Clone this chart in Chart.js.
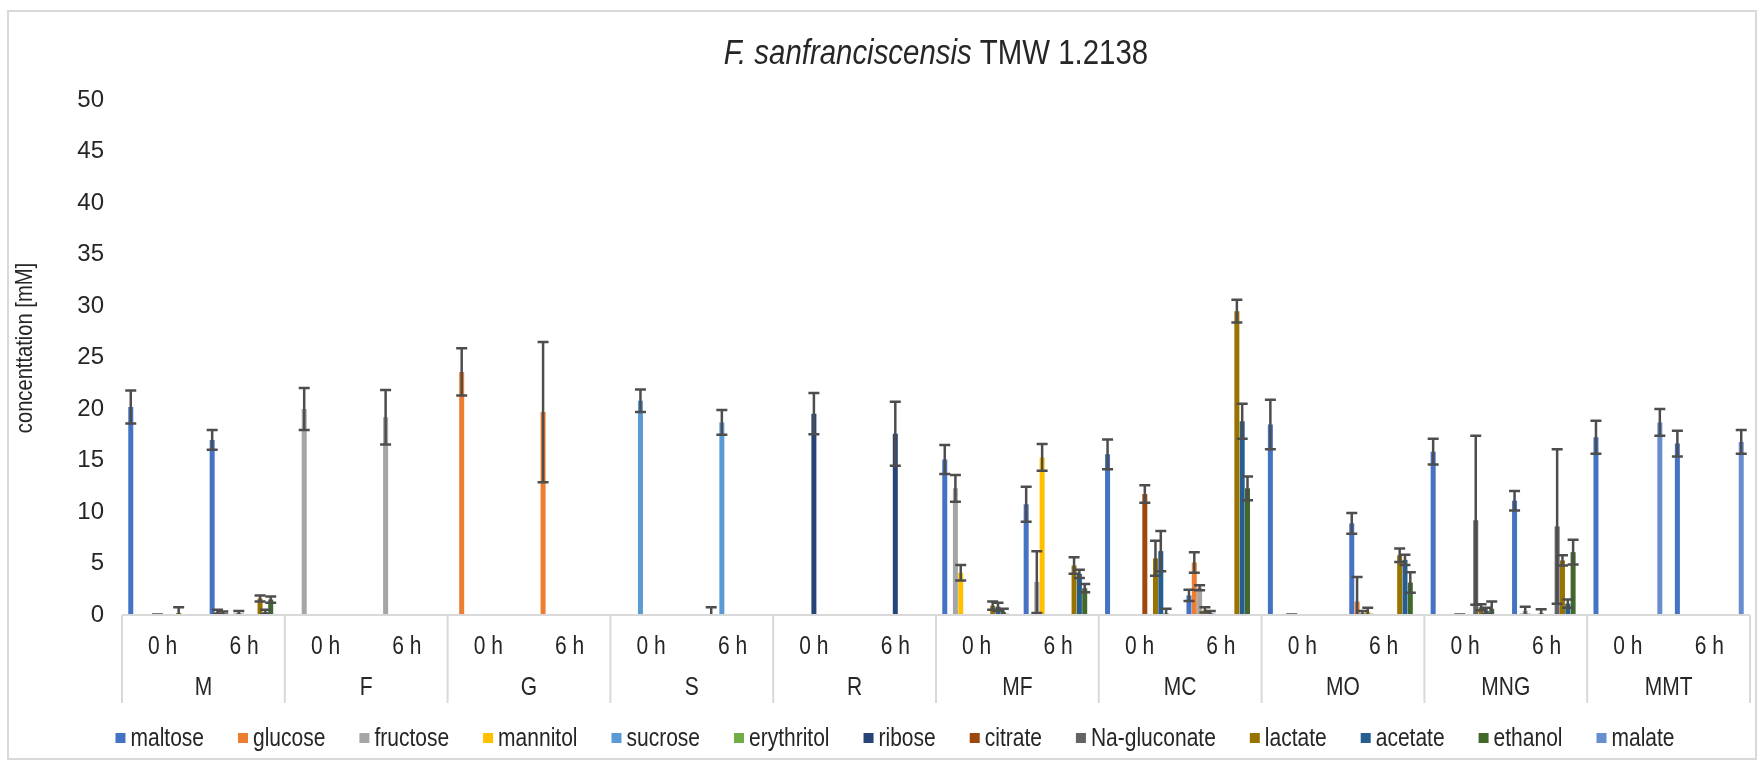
<!DOCTYPE html>
<html>
<head>
<meta charset="utf-8">
<title>F. sanfranciscensis TMW 1.2138</title>
<script src="https://cdn.jsdelivr.net/npm/chart.js"></script>
<style>
  html, body { margin: 0; padding: 0; background: #fff; }
</style>
</head>
<body>
<canvas id="concChart" width="1763" height="765"></canvas>

<script>
// substrates / time points
const groups = ['M', 'F', 'G', 'S', 'R', 'MF', 'MC', 'MO', 'MNG', 'MMT'];
const times = ['0 h', '6 h'];
const yMax = 50;
const yStep = 5;

const _ = null;
// mean concentrations [mM] and standard deviations, one entry per group/time
const maltose      = [20.2, 17.0, _, _, _, _, _, _, _, _, 15.1, 10.75, 15.6, 1.9, 18.5, 8.9, 15.85, 11.1, 17.25, 16.65];
const maltoseSd    = [1.6, 0.95, _, _, _, _, _, _, _, _, 1.4, 1.7, 1.45, 0.55, 2.4, 1.0, 1.25, 0.95, 1.6, 1.25];
const glucose      = [_, 0.3, _, _, 23.6, 19.7, _, _, _, _, _, _, _, 5.1, _, 1.3, _, _, _, _];
const glucoseSd    = [_, 0.2, _, _, 2.3, 6.8, _, _, _, _, _, _, _, 1.0, _, 2.4, _, _, _, _];
const fructose     = [_, 0.2, 20.0, 19.2, _, _, _, 0.1, _, _, 12.3, 3.2, _, 2.65, _, 0.2, _, 0.4, _, _];
const fructoseSd   = [_, 0.15, 2.05, 2.65, _, _, _, 0.65, _, _, 1.3, 3.0, _, 0.25, _, 0.2, _, 0.4, _, _];
const mannitol     = [_, _, _, _, _, _, _, _, _, _, 4.1, 15.3, _, 0.5, _, 0.35, _, _, _, _];
const mannitolSd   = [_, _, _, _, _, _, _, _, _, _, 0.75, 1.3, _, 0.25, _, 0.35, _, _, _, _];
const sucrose      = [_, _, _, _, _, _, 20.8, 18.7, _, _, _, _, _, 0.2, 0, _, _, _, _, _];
const sucroseSd    = [_, _, _, _, _, _, 1.1, 1.2, _, _, _, _, _, 0.2, 0.05, _, _, _, _, _];
const erythritol   = [0, 0.2, _, _, _, _, _, _, _, _, _, _, _, _, _, _, 0, 0.2, _, _];
const erythritolSd = [0.05, 0.2, _, _, _, _, _, _, _, _, _, _, _, _, _, _, 0.05, 0.35, _, _];
const ribose       = [_, _, _, _, _, _, _, _, 19.55, 17.6, _, _, _, _, _, _, _, _, _, _];
const riboseSd     = [_, _, _, _, _, _, _, _, 2.0, 3.1, _, _, _, _, _, _, _, _, _, _];
const citrate      = [_, _, _, _, _, _, _, _, _, _, _, _, 11.75, _, _, _, _, _, _, _];
const citrateSd    = [_, _, _, _, _, _, _, _, _, _, _, _, 0.85, _, _, _, _, _, _, _];
const naGluconate  = [_, _, _, _, _, _, _, _, _, _, _, _, _, _, _, _, 9.2, 8.6, _, _];
const naGluconateSd= [_, _, _, _, _, _, _, _, _, _, _, _, _, _, _, _, 8.2, 7.5, _, _];
const lactate      = [0.2, 1.6, _, _, _, _, _, _, _, _, 0.9, 4.8, 5.5, 29.5, _, 5.8, 0.75, 5.3, _, _];
const lactateSd    = [0.55, 0.3, _, _, _, _, _, _, _, _, 0.4, 0.8, 1.7, 1.1, _, 0.65, 0.3, 0.5, _, _];
const acetate      = [_, 0.3, _, _, _, _, _, _, _, _, 0.8, 4.0, 6.2, 18.8, _, 5.35, 0.4, 1.1, _, _];
const acetateSd    = [_, 0.2, _, _, _, _, _, _, _, _, 0.4, 0.4, 1.95, 1.7, _, 0.5, 0.3, 0.4, _, _];
const ethanol      = [_, 1.5, _, _, _, _, _, _, _, _, 0.3, 2.6, 0.15, 12.3, _, 3.15, 0.6, 6.1, _, _];
const ethanolSd    = [_, 0.3, _, _, _, _, _, _, _, _, 0.3, 0.4, 0.45, 1.15, _, 1.0, 0.7, 1.2, _, _];
const malate       = [_, _, _, _, _, _, _, _, _, _, _, _, _, _, _, _, _, _, 18.7, 16.8];
const malateSd     = [_, _, _, _, _, _, _, _, _, _, _, _, _, _, _, _, _, _, 1.3, 1.15];

const seriesNames = ['maltose', 'glucose', 'fructose', 'mannitol', 'sucrose', 'erythritol', 'ribose',
                     'citrate', 'Na-gluconate', 'lactate', 'acetate', 'ethanol', 'malate'];
const seriesValues = [maltose, glucose, fructose, mannitol, sucrose, erythritol, ribose,
                      citrate, naGluconate, lactate, acetate, ethanol, malate];
const seriesErrors = [maltoseSd, glucoseSd, fructoseSd, mannitolSd, sucroseSd, erythritolSd, riboseSd,
                      citrateSd, naGluconateSd, lactateSd, acetateSd, ethanolSd, malateSd];
const seriesColors = ['#4472C4', '#ED7D31', '#A5A5A5', '#FFC000', '#5B9BD5', '#70AD47', '#264478',
                      '#9E480E', '#636363', '#997300', '#255E91', '#43682B', '#698ED0'];

const FONT = '"Liberation Sans", Arial, sans-serif';
const NARROW = 0.84;   // horizontal squeeze for a condensed look
const TEXT = '#262626';
const LINE = '#d9d9d9';

// draw a condensed text run; returns its drawn width
function narrowText(ctx, text, x, y, align) {
  const w = ctx.measureText(text).width * NARROW;
  let x0 = x;
  if (align === 'center') x0 = x - w / 2;
  else if (align === 'right') x0 = x - w;
  ctx.save();
  ctx.translate(x0, y);
  ctx.scale(NARROW, 1);
  ctx.textAlign = 'left';
  ctx.fillText(text, 0, 0);
  ctx.restore();
  return w;
}

// white background + outer frame
const frame = {
  id: 'frame',
  beforeDraw(chart) {
    const ctx = chart.ctx;
    ctx.save();
    ctx.fillStyle = '#fff';
    ctx.fillRect(0, 0, chart.width, chart.height);
    ctx.strokeStyle = LINE;
    ctx.lineWidth = 2;
    ctx.strokeRect(8, 11, 1748, 748);
    ctx.restore();
  }
};

// +/- SD whiskers on every bar
const errorBars = {
  id: 'errorBars',
  afterDatasetsDraw(chart) {
    const { ctx, chartArea, scales: { y } } = chart;
    ctx.save();
    ctx.beginPath();
    ctx.rect(chartArea.left, 0, chartArea.width, chartArea.bottom + 1);
    ctx.clip();
    ctx.strokeStyle = '#4d4d4d';
    ctx.lineWidth = 2.5;
    chart.data.datasets.forEach((ds, di) => {
      const meta = chart.getDatasetMeta(di);
      ds.data.forEach((v, i) => {
        if (v === null) return;
        const sd = ds.errors[i] || 0;
        const x = meta.data[i].x;
        const top = y.getPixelForValue(v + sd);
        const bot = y.getPixelForValue(v - sd);
        ctx.beginPath();
        ctx.moveTo(x, top); ctx.lineTo(x, bot);
        ctx.moveTo(x - 5.5, top); ctx.lineTo(x + 5.5, top);
        ctx.moveTo(x - 5.5, bot); ctx.lineTo(x + 5.5, bot);
        ctx.stroke();
      });
    });
    ctx.restore();
  }
};

// two-level category axis, titles and legend
const decorations = {
  id: 'decorations',
  afterDraw(chart) {
    const { ctx, chartArea, scales: { x } } = chart;
    const base = chartArea.bottom;
    const half = (x.getPixelForValue(1) - x.getPixelForValue(0)) / 2;
    ctx.save();

    // axis box
    ctx.strokeStyle = LINE;
    ctx.lineWidth = 2;
    ctx.beginPath();
    ctx.moveTo(chartArea.left, base); ctx.lineTo(chartArea.right, base);
    groups.forEach((g, gi) => {
      const left = x.getPixelForValue(gi * 2) - half;
      ctx.moveTo(left, base); ctx.lineTo(left, base + 88);
    });
    ctx.moveTo(chartArea.right, base); ctx.lineTo(chartArea.right, base + 88);
    ctx.stroke();

    ctx.fillStyle = TEXT;
    ctx.textBaseline = 'middle';
    ctx.font = `25px ${FONT}`;
    groups.forEach((g, gi) => {
      times.forEach((t, ti) => {
        narrowText(ctx, t, x.getPixelForValue(gi * 2 + ti), base + 32, 'center');
      });
      const mid = (x.getPixelForValue(gi * 2) + x.getPixelForValue(gi * 2 + 1)) / 2;
      narrowText(ctx, g, mid, base + 73, 'center');
    });

    // chart title over the plot, species name in italics
    const part1 = 'F. sanfranciscensis';
    const part2 = ' TMW 1.2138';
    ctx.font = `italic 35px ${FONT}`;
    const w1 = ctx.measureText(part1).width * NARROW;
    ctx.font = `35px ${FONT}`;
    const w2 = ctx.measureText(part2).width * NARROW;
    const tx = (chartArea.left + chartArea.right) / 2 - (w1 + w2) / 2;
    ctx.font = `italic 35px ${FONT}`;
    narrowText(ctx, part1, tx, 54, 'left');
    ctx.font = `35px ${FONT}`;
    narrowText(ctx, part2, tx + w1, 54, 'left');

    // y axis title
    ctx.save();
    ctx.translate(25, 348);
    ctx.rotate(-Math.PI / 2);
    ctx.font = `24px ${FONT}`;
    narrowText(ctx, 'concenttation [mM]', 0, 0, 'center');
    ctx.restore();

    // legend
    ctx.font = `25px ${FONT}`;
    const box = 10, gap = 5, spacing = 34;
    const widths = seriesNames.map(n => ctx.measureText(n).width * NARROW);
    const total = widths.reduce((a, b) => a + b, 0) + seriesNames.length * (box + gap) + spacing * (seriesNames.length - 1);
    let lx = 895 - total / 2;
    const ly = 738;
    seriesNames.forEach((n, i) => {
      ctx.fillStyle = seriesColors[i];
      ctx.fillRect(lx, ly - box / 2, box, box);
      ctx.fillStyle = TEXT;
      narrowText(ctx, n, lx + box + gap, ly + 1, 'left');
      lx += box + gap + widths[i] + spacing;
    });
    ctx.restore();
  }
};

const labels = groups.flatMap(g => times.map(t => `${g} ${t}`));

new Chart(document.getElementById('concChart'), {
  type: 'bar',
  data: {
    labels: labels,
    datasets: seriesNames.map((name, i) => ({
      label: name,
      data: seriesValues[i],
      errors: seriesErrors[i],
      backgroundColor: seriesColors[i],
      borderWidth: 0,
      categoryPercentage: 0.85,
      barPercentage: 0.94
    }))
  },
  options: {
    responsive: false,
    animation: false,
    layout: { padding: { top: 100, left: 10, right: 13, bottom: 62 } },
    plugins: {
      legend: { display: false },
      title: { display: false },
      tooltip: { enabled: false }
    },
    scales: {
      x: {
        grid: { display: false, drawTicks: false },
        border: { display: false },
        ticks: { display: false },
        afterFit(scale) { scale.height = 88; }
      },
      y: {
        min: 0,
        max: yMax,
        grid: { display: false, drawTicks: false },
        border: { display: false },
        ticks: {
          stepSize: yStep,
          padding: 18,
          color: TEXT,
          font: { family: FONT, size: 24 }
        },
        afterFit(scale) { scale.width = 112; }
      }
    }
  },
  plugins: [frame, errorBars, decorations]
});
</script>
</body>
</html>
